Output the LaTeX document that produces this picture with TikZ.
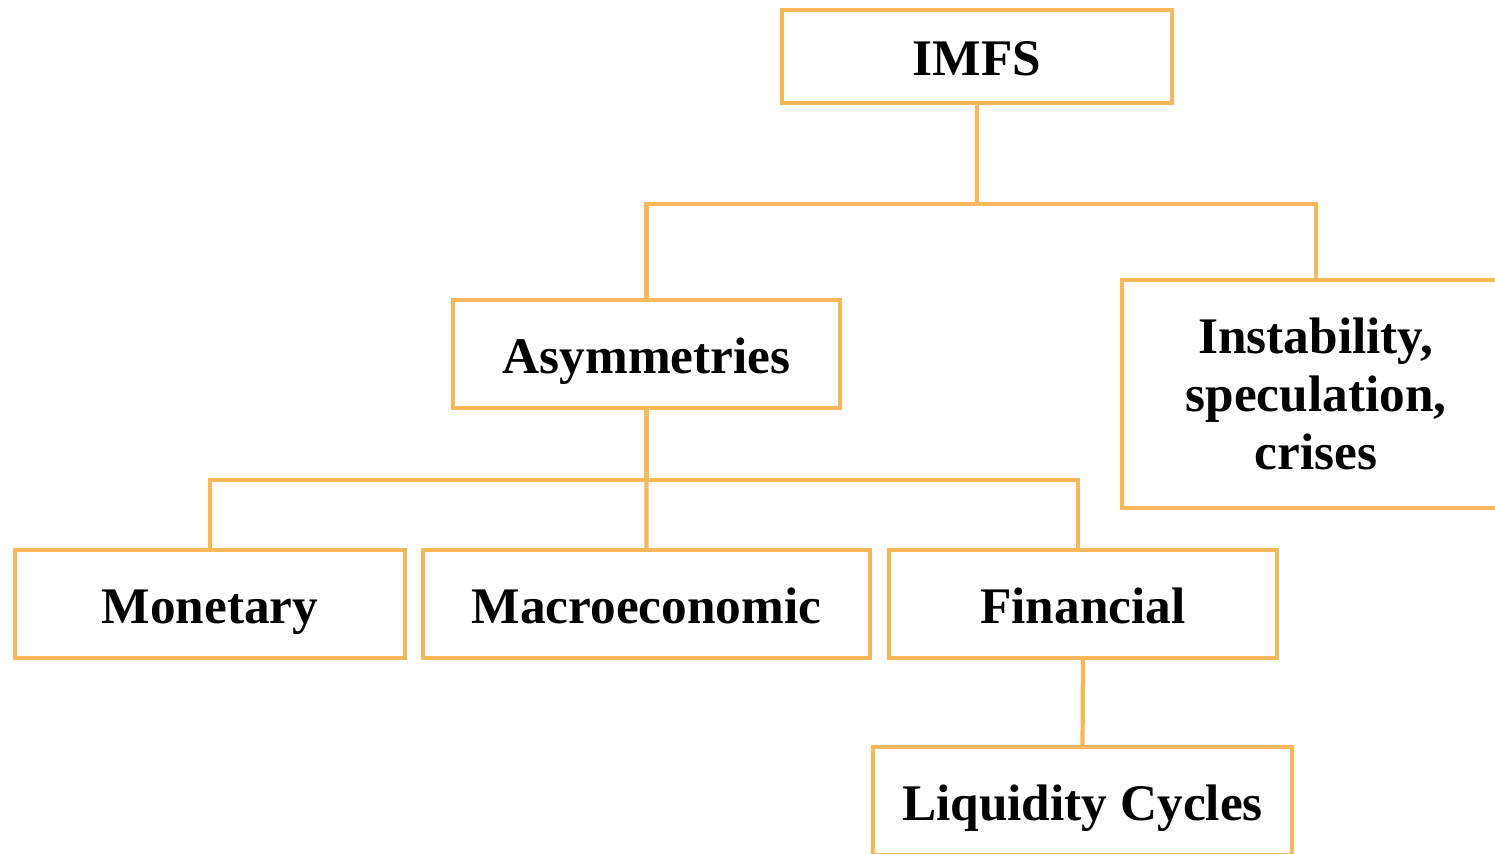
\documentclass[tikz,border=0pt]{standalone}
\usepackage{fontspec}
\setmainfont{Liberation Serif}
\usepackage{xcolor}
\usepackage{tikz}
\usetikzlibrary{positioning, calc}

\definecolor{boxorange}{RGB}{246,184,88}

\begin{document}
\begin{tikzpicture}[
    % Define styles for the nodes
    base_node/.style={rectangle, draw=boxorange, line width=1.4pt, align=center, inner sep=0pt,
        outer sep=0pt, font=\fontsize{14.6}{16.5}\selectfont\bfseries, fill=white},
    one_line/.style={text height=0.38cm, text depth=0pt},
    top_node/.style={base_node, one_line, minimum width=3.90cm, minimum height=0.93cm},
    mid_node/.style={base_node, one_line, minimum width=3.87cm, minimum height=1.08cm},
    side_node/.style={base_node, minimum width=3.88cm, minimum height=2.28cm},
    leaf_node/.style={base_node, one_line, minimum height=1.08cm},
    % Styles for connectors
    link/.style={draw=boxorange, line width=1.2pt}
]
    \useasboundingbox (0,0) rectangle (14.95,8.53);

    % =========================================================================
    % TOP LEVEL
    % =========================================================================
    \node (imfs) [top_node] at (9.77, 7.965) {IMFS};

    \node (asym) [mid_node] at (6.465, 4.99) {Asymmetries};

    \node (instab) [side_node] at (13.16, 4.59) {Instability,\\speculation,\\crises};

    \draw [link] (imfs.south) -- ++(0,-1.01) coordinate (split_top);
    \draw [link] (asym.north) |- (split_top) -| (instab.north);

    % =========================================================================
    % ASYMMETRY TYPES (Horizontal)
    % =========================================================================
    \node (monetary) [leaf_node, minimum width=3.90cm] at (2.10, 2.49) {Monetary};

    \node (macro) [leaf_node, minimum width=4.47cm, right=0.18cm of monetary] {Macroeconomic};

    \node (financial) [leaf_node, minimum width=3.88cm, right=0.19cm of macro] {Financial};

    \draw [link] (asym.south) -- ++(0,-0.72) coordinate (split_mid);
    \draw [link] (monetary.north) |- (split_mid) -| ($(financial.north)+(-0.05,0)$);
    \draw [link] (split_mid) -- (macro.north);

    % =========================================================================
    % LIQUIDITY
    % =========================================================================
    \node (liquidity) [leaf_node, minimum width=4.19cm] at (10.825, 0.52) {Liquidity Cycles};
    \draw [link] (financial.south) -- (liquidity.north);

\end{tikzpicture}
\end{document}
